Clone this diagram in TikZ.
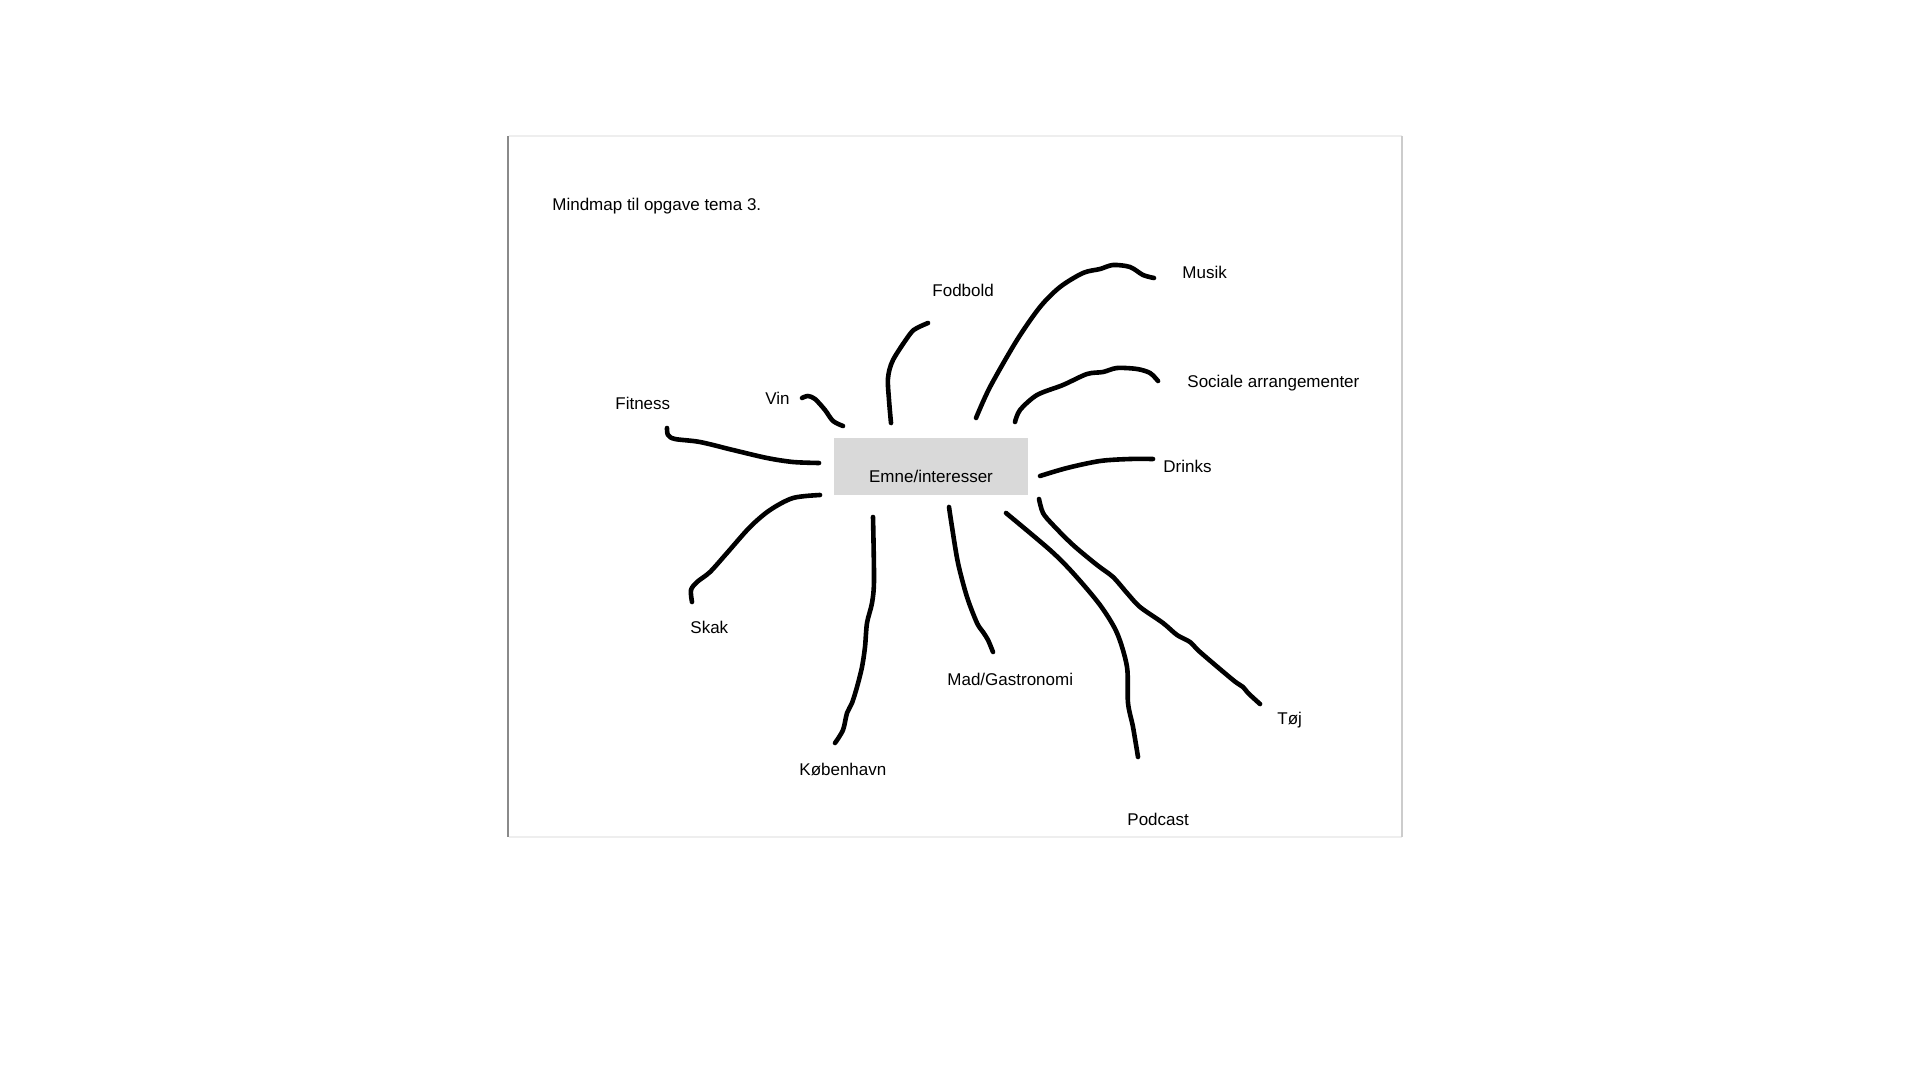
\documentclass[tikz,border=0pt]{standalone}
\usepackage{fontspec}
\setmainfont{Liberation Sans}
\definecolor{boxgray}{HTML}{D9D9D9}
\definecolor{edgedark}{HTML}{8A8A8A}
\definecolor{edgemid}{HTML}{CCCCCC}
\definecolor{edgelight}{HTML}{EEEEEE}
\tikzset{
  lbl/.style={anchor=base west, inner sep=0pt, font=\fontsize{8.5pt}{10pt}\selectfont, text=black},
  stroke/.style={line width=2.3pt, line cap=round, line join=round, black},
}
\begin{document}
\begin{tikzpicture}[x=0.5pt, y=-0.5pt]
\useasboundingbox (0,0) rectangle (1920,1080);
\fill[white] (0,0) rectangle (1920,1080);
% page frame
\draw[edgelight, line width=0.6pt] (509,136) -- (1402,136);
\draw[edgelight, line width=0.6pt] (509,837) -- (1402,837);
\draw[edgemid, line width=0.7pt] (1402,136) -- (1402,837);
\draw[edgedark, line width=0.9pt] (508,136) -- (508,837);
% central box
\node[fill=boxgray, minimum width=97pt, minimum height=28.5pt, inner sep=0pt, anchor=north west] (box) at (834,438) {};
\node[anchor=base, inner sep=0pt, font=\fontsize{8.5pt}{10pt}\selectfont] (center) at (931,482) {Emne/interesser};
% labels
\node[lbl] (title) at (552,211) {Mindmap til opgave tema 3.};
\node[lbl] (fodbold) at (932,297) {Fodbold};
\node[lbl] (vin) at (765,404) {Vin};
\node[lbl] (fitness) at (615,409) {Fitness};
\node[lbl] (musik) at (1182,279) {Musik};
\node[lbl] (sociale) at (1187,387) {Sociale arrangementer};
\node[lbl] (drinks) at (1163,472) {Drinks};
\node[lbl] (skak) at (690,633) {Skak};
\node[lbl] (kbh) at (799,775) {København};
\node[lbl] (mad) at (947,685) {Mad/Gastronomi};
\node[lbl] (toj) at (1277,724) {Tøj};
\node[lbl] (podcast) at (1127,825) {Podcast};
% strokes
\draw[stroke] plot[smooth, tension=0.5] coordinates {(667,428) (668,435) (675,439) (700,442) (733,450) (767,458) (793,462) (819,463)};
\draw[stroke] plot[smooth, tension=0.5] coordinates {(802,398) (808,396) (815,399) (825,410) (833,421) (843,426)};
\draw[stroke] plot[smooth, tension=0.5] coordinates {(891,423) (889,400) (888,378) (893,360) (910,334) (917,328) (928,323)};
\draw[stroke] plot[smooth, tension=0.5] coordinates {(976,418) (990,387) (1017,340) (1040,307) (1060,287) (1083,273) (1100,269) (1113,265) (1130,267) (1143,275) (1154,278)};
\draw[stroke] plot[smooth, tension=0.5] coordinates {(1015,422) (1020,410) (1037,395) (1063,385) (1087,374) (1103,372) (1117,368) (1137,369) (1150,373) (1158,381)};
\draw[stroke] plot[smooth, tension=0.5] coordinates {(1040,476) (1067,468) (1100,461) (1130,459) (1153,459)};
\draw[stroke] plot[smooth, tension=0.5] coordinates {(1039,499) (1043,513) (1053,525) (1073,545) (1097,565) (1113,577) (1127,593) (1140,607) (1163,623) (1177,635) (1190,642) (1200,652) (1233,680) (1243,687) (1248,693) (1260,704)};
\draw[stroke] plot[smooth, tension=0.5] coordinates {(1006,513) (1050,550) (1073,573) (1100,605) (1117,633) (1127,667) (1128,703) (1133,727) (1138,757)};
\draw[stroke] plot[smooth, tension=0.5] coordinates {(820,495) (793,498) (770,510) (750,527) (727,553) (710,572) (697,582) (691,590) (692,602)};
\draw[stroke] plot[smooth, tension=0.5] coordinates {(873,517) (874,580) (872,603) (867,623) (865,647) (862,667) (857,687) (852,703) (847,713) (843,730) (835,743)};
\draw[stroke] plot[smooth, tension=0.5] coordinates {(949,507) (952,527) (958,563) (967,597) (977,623) (983,632) (988,640) (993,652)};
\end{tikzpicture}
\end{document}
